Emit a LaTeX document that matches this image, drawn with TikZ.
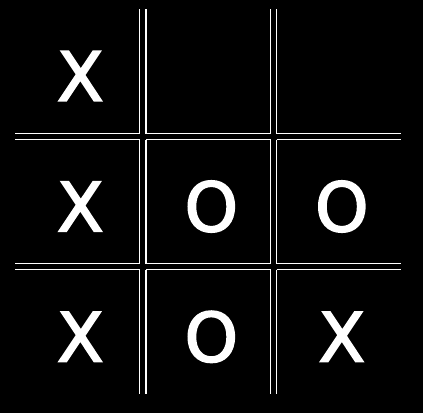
\documentclass[tikz,border=0pt]{standalone}
\usepackage{fontspec}
\setmainfont{DejaVu Sans}
\newfontfamily\piecefont{DejaVu Sans}[FakeBold=2.5]
\begin{document}
\begin{tikzpicture}[x=1pt,y=-1pt,
  gridline/.style={white, line width=1.2pt},
  piece/.style={text=white, font=\piecefont\fontsize{68}{70}\selectfont, inner sep=0pt}]
\fill[black] (0,0) rectangle (423,413);
\useasboundingbox (0,0) rectangle (423,413);
% vertical double lines
\foreach \x in {139.5,146,270.5,276.5}{
  \foreach \a/\b in {9/133.5,139.5/263.5,269.5/394}{
    \draw[gridline] (\x,\a) -- (\x,\b);
  }
}
% horizontal double lines
\foreach \y in {133.5,139.5,263.5,269.5}{
  \foreach \a/\b in {15/139.5,146/270.5,276.5/401}{
    \draw[gridline] (\a,\y) -- (\b,\y);
  }
}
\node[piece] (c11) at (80.3,76) {X};
\node[piece] (c21) at (80.3,206.5) {X};
\node[piece] (c22) at (211.3,206.5) {O};
\node[piece] (c23) at (341.8,206.5) {O};
\node[piece] (c31) at (80.3,336.8) {X};
\node[piece] (c32) at (211.3,336.8) {O};
\node[piece] (c33) at (341.8,336.8) {X};
\end{tikzpicture}
\end{document}
